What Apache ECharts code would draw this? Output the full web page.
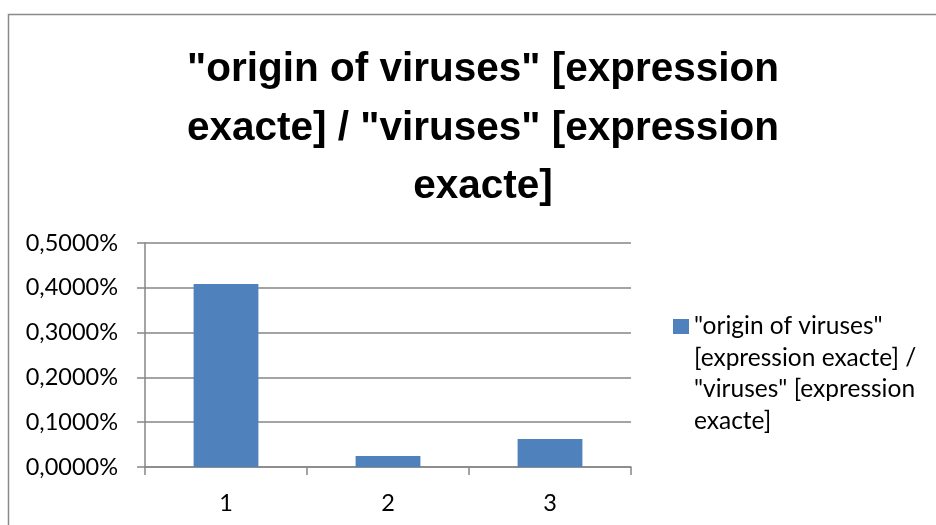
<!DOCTYPE html>
<html>
<head>
<meta charset="utf-8">
<script src="https://cdn.jsdelivr.net/npm/echarts@6/dist/echarts.min.js"></script>
<style>
html,body{margin:0;padding:0;background:#fff;}
#chart{width:936px;height:525px;}
</style>
</head>
<body>
<div id="chart"></div>
<script>
var titleText = '"origin of viruses" [expression\nexacte] / "viruses" [expression\nexacte]';
var seriesName = '"origin of viruses" [expression exacte] / "viruses" [expression exacte]';
var legendLines = ['"origin of viruses"', '[expression exacte] /', '"viruses" [expression', 'exacte]'];
var categories = ['1', '2', '3'];
var values = [0.4085, 0.0246, 0.0625]; // percent
var yMin = 0, yMax = 0.5, yStep = 0.1;

var labelFont = 'Lato, "Open Sans", sans-serif';
var chart = echarts.init(document.getElementById('chart'));
var legendLH = 31.5;
chart.setOption({
  animation: false,
  backgroundColor: '#ffffff',
  title: {
    text: titleText,
    left: 478,
    textAlign: 'center',
    top: 36,
    textStyle: {
      fontFamily: '"Liberation Sans", sans-serif',
      fontWeight: 'bold',
      fontSize: 40.5,
      lineHeight: 58.5,
      color: '#000'
    }
  },
  graphic: [{
    type: 'rect',
    shape: {x: 8.5, y: 14.5, width: 1000, height: 1000},
    style: {fill: 'none', stroke: '#8a8a8a', lineWidth: 1.5},
    silent: true,
    z: -1
  }],
  legend: {
    left: 673,
    top: 326.5 - 3.5 * legendLH,
    padding: 0,
    orient: 'vertical',
    itemWidth: 16,
    itemHeight: 15,
    icon: 'rect',
    data: [seriesName],
    formatter: function () { return '\n\n\n' + legendLines.join('\n') + ''; },
    textStyle: {
      fontFamily: labelFont,
      fontSize: 24.5,
      lineHeight: legendLH,
      color: '#000'
    }
  },
  grid: {left: 145, right: 305, top: 243, bottom: 58, containLabel: false},
  xAxis: {
    type: 'category',
    data: categories,
    boundaryGap: true,
    axisLine: {show: true, lineStyle: {color: '#868686', width: 1.5}},
    axisTick: {show: true, length: 8, interval: 0, lineStyle: {color: '#868686', width: 1.5}},
    axisLabel: {margin: 24, fontFamily: labelFont, fontSize: 23.5, color: '#000'},
    splitLine: {show: false}
  },
  yAxis: {
    type: 'value',
    min: yMin, max: yMax, interval: yStep,
    axisLine: {show: true, lineStyle: {color: '#868686', width: 1.5}},
    axisTick: {show: true, length: 8, lineStyle: {color: '#868686', width: 1.5}},
    axisLabel: {
      margin: 27, fontFamily: labelFont, fontSize: 23.5, color: '#000',
      formatter: function (v) { return v.toFixed(4).replace('.', ',') + '%'; }
    },
    splitLine: {show: true, lineStyle: {color: '#868686', width: 1.5}}
  },
  series: [{
    name: seriesName,
    type: 'bar',
    data: values,
    barWidth: '40%',
    itemStyle: {color: '#4f81bd'}
  }]
});
</script>
</body>
</html>
